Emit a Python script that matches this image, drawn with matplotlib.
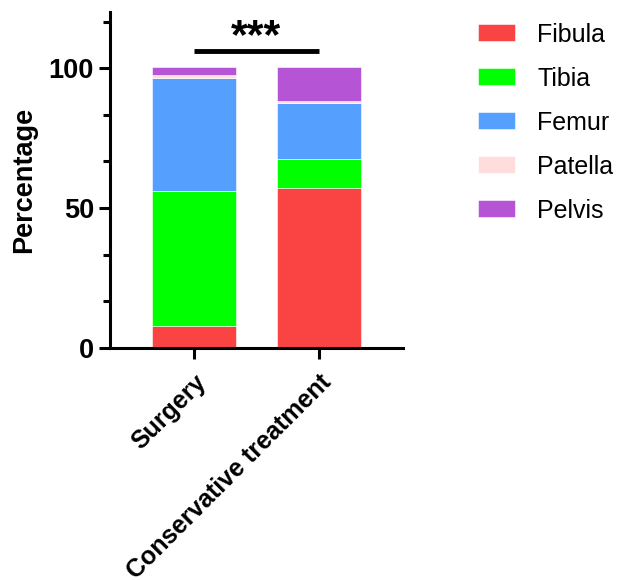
import numpy as np
import matplotlib.pyplot as plt
from matplotlib.ticker import MultipleLocator

plt.rcParams['font.family'] = ['Liberation Sans', 'DejaVu Sans']

groups = ["Surgery", "Conservative treatment"]
parts = ["Fibula", "Tibia", "Femur", "Patella", "Pelvis"]
fibula = [8, 57]
tibia = [48, 10.6]
femur = [40.5, 20]
patella = [1, 0.8]
pelvis = [3, 12]
colors = ["#FA4343", "#00FF00", "#559FFF", "#FFDDDD", "#B554D4"]

fig = plt.figure(figsize=(6.18, 5.8), dpi=100)
ax = fig.add_axes([0.178, 0.4, 0.474, 0.579])

x = np.arange(len(groups))
bottom = np.zeros(len(groups))
for name, vals, c in zip(parts, [fibula, tibia, femur, patella, pelvis], colors):
    ax.bar(x, vals, width=0.67, bottom=bottom, color=c, label=name,
           edgecolor="white", linewidth=0.4)
    bottom += np.array(vals)

# significance bracket
ax.plot([0, 1], [106, 106], color="black", lw=3.5, solid_capstyle="butt")
ax.text(0.5, 104, "***", ha="center", va="bottom", fontsize=31, fontweight="bold")

ax.set_xlim(-0.667, 1.667)
ax.set_ylim(0, 120)
ax.set_yticks([0, 50, 100])
ax.yaxis.set_minor_locator(MultipleLocator(50 / 3))
ax.set_xticks(x)
ax.set_xticklabels(groups, rotation=45, ha="right", rotation_mode="anchor",
                   fontsize=18, fontweight="bold")
ax.set_ylabel("Percentage", fontsize=19.5, fontweight="bold", labelpad=8)
for lab in ax.get_yticklabels():
    lab.set_fontsize(19.5)
    lab.set_fontweight("bold")

for s in ["top", "right"]:
    ax.spines[s].set_visible(False)
for s in ["left", "bottom"]:
    ax.spines[s].set_linewidth(2.2)
ax.tick_params(axis="both", which="major", length=8, width=2.2, direction="out")
ax.tick_params(axis="y", which="minor", length=5, width=2.2)
ax.tick_params(axis="x", pad=8)

ax.legend(loc="upper left", bbox_to_anchor=(1.179, 1.036), frameon=False,
          fontsize=18, handlelength=1.5, handleheight=0.68,
          labelspacing=0.8, handletextpad=0.88)

fig.savefig("out.png", dpi=100)
